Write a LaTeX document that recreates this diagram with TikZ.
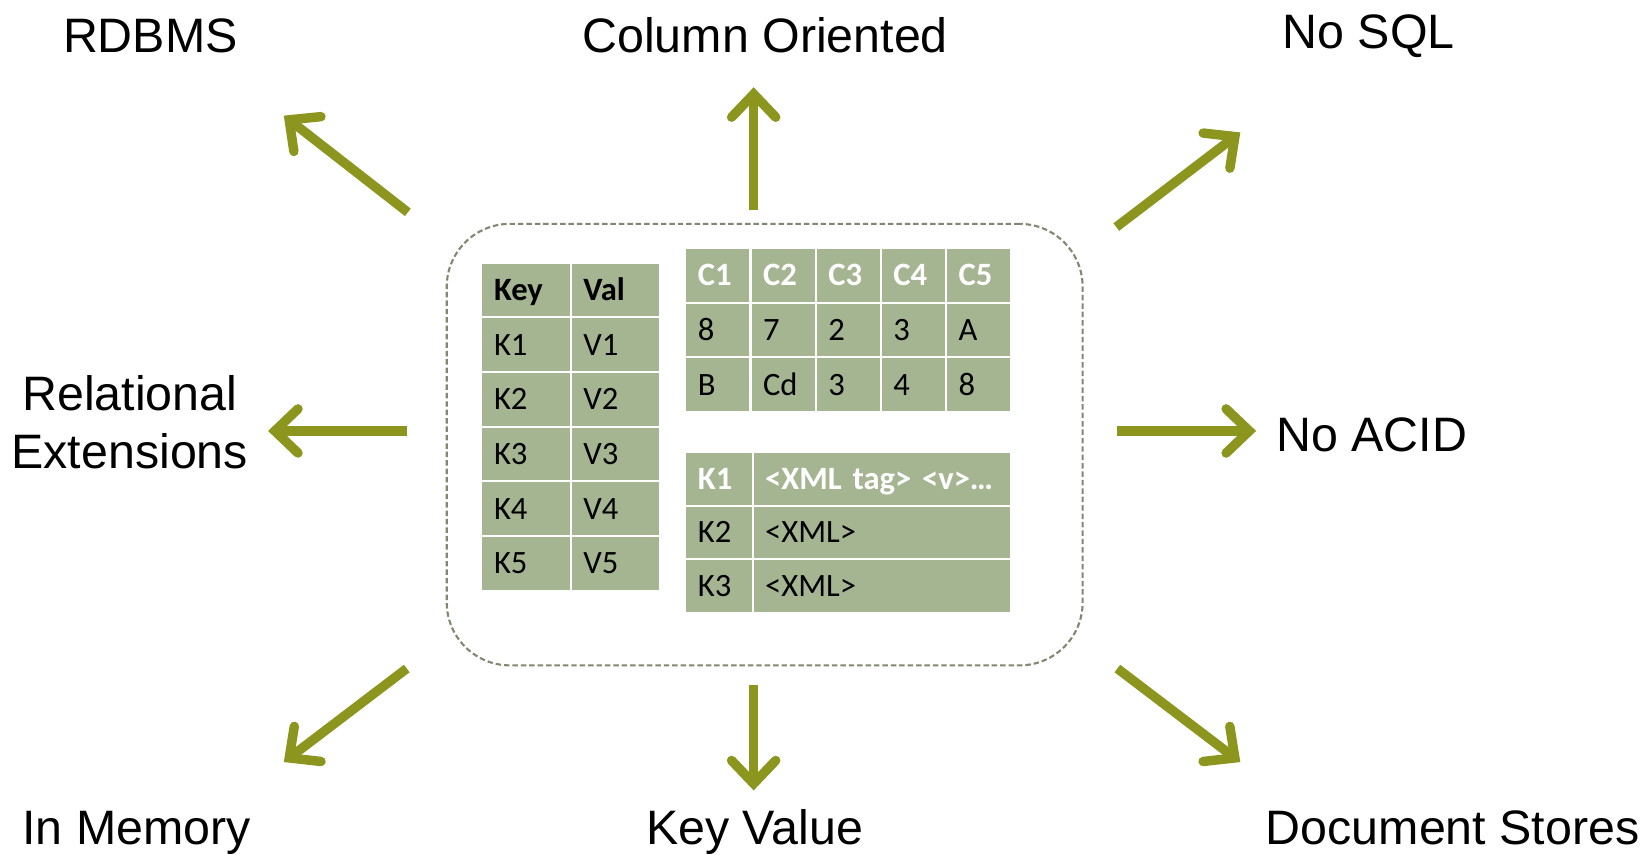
\documentclass[tikz,border=0pt]{standalone}
\usepackage{fontspec}
\setmainfont{Liberation Sans}
\newfontfamily\cellfont{Carlito}
\usepackage{xcolor}
\usetikzlibrary{arrows.meta, positioning}

\definecolor{cellfill}{HTML}{A5B592}
\definecolor{arrowolive}{HTML}{8C961E}
\definecolor{framegray}{HTML}{7F8870}
\newcommand{\cellsize}{\fontsize{15.5}{18}\selectfont}

\tikzset{
  cell/.style={draw=white, line width=1pt, fill=cellfill, minimum height=26pt,
    inner xsep=6pt, inner ysep=0pt, align=left, text height=10pt, text depth=0pt,
    font=\cellfont\cellsize},
  kcell/.style={cell, text width=30.5pt},
  ccell/.style={cell, text width=19pt},
  xkey/.style={cell, text width=20pt, minimum height=25.5pt},
  xval/.style={cell, text width=111pt, minimum height=25.5pt},
  boldhead/.style={font=\cellfont\cellsize\bfseries},
  whitehead/.style={font=\cellfont\cellsize\bfseries, text=white},
  dbname/.style={font=\fontsize{23}{27.5}\selectfont, anchor=base, inner sep=0pt},
  arr/.style={draw=arrowolive, line width=4.5pt,
    -{Straight Barb[length=11pt, width=21pt, line cap=round]}},
}

\begin{document}
\begin{tikzpicture}[x=0.5pt, y=-0.5pt]
  \useasboundingbox (0,0) rectangle (1565,813);

  % dashed frame round the tables
  \node[draw=framegray, line width=1pt, dash pattern=on 2.6pt off 1.4pt,
    rounded corners=30pt, minimum width=302.5pt, minimum height=210pt]
    (frame) at (727.5,423) {};

  % key / value table
  \node[kcell, boldhead] (kh) at (500.5,276) {Key};
  \node[kcell, boldhead] (vh) at (585.5,276) {Val};
  \node[kcell] (k1) at (500.5,328) {K1};
  \node[kcell] (v1) at (585.5,328) {V1};
  \node[kcell] (k2) at (500.5,380) {K2};
  \node[kcell] (v2) at (585.5,380) {V2};
  \node[kcell] (k3) at (500.5,432) {K3};
  \node[kcell] (v3) at (585.5,432) {V3};
  \node[kcell] (k4) at (500.5,484) {K4};
  \node[kcell] (v4) at (585.5,484) {V4};
  \node[kcell] (k5) at (500.5,536) {K5};
  \node[kcell] (v5) at (585.5,536) {V5};

  % column table
  \node[ccell, whitehead] (c1) at (683,262) {C1};
  \node[ccell, whitehead] (c2) at (745,262) {C2};
  \node[ccell, whitehead] (c3) at (807,262) {C3};
  \node[ccell, whitehead] (c4) at (869,262) {C4};
  \node[ccell, whitehead] (c5) at (931,262) {C5};
  \node[ccell] (r1a) at (683,314) {8};
  \node[ccell] (r1b) at (745,314) {7};
  \node[ccell] (r1c) at (807,314) {2};
  \node[ccell] (r1d) at (869,314) {3};
  \node[ccell] (r1e) at (931,314) {A};
  \node[ccell] (r2a) at (683,366) {B};
  \node[ccell] (r2b) at (745,366) {Cd};
  \node[ccell] (r2c) at (807,366) {3};
  \node[ccell] (r2d) at (869,366) {4};
  \node[ccell] (r2e) at (931,366) {8};

  % document table
  \node[xkey, whitehead] (xk1) at (684,455.5) {K1};
  \node[xval, whitehead] (xv1) at (839,455.5) {<XML tag> <v>…};
  \node[xkey] (xk2) at (684,506.5) {K2};
  \node[xval] (xv2) at (839,506.5) {<XML>};
  \node[xkey] (xk3) at (684,557.5) {K3};
  \node[xval] (xv3) at (839,557.5) {<XML>};

  % names round the frame
  \node[dbname] (rdbms) at (143,50) {RDBMS};
  \node[dbname] (column) at (728,50) {Column Oriented};
  \node[dbname] (nosql) at (1302,46) {No SQL};
  \node[dbname, align=center] (relext) at (123.5,446) {Relational\\Extensions};
  \node[dbname] (noacid) at (1305,430) {No ACID};
  \node[dbname] (inmem) at (130,803) {In Memory};
  \node[dbname] (keyval) at (718,803) {Key Value};
  \node[dbname] (docs) at (1382,803) {Document Stores};

  % arrow ends
  \coordinate (nwA) at (388,202);  \coordinate (nwB) at (270,110);
  \coordinate (nA) at (717,200);   \coordinate (nB) at (717,83);
  \coordinate (neA) at (1062,216); \coordinate (neB) at (1180,126);
  \coordinate (wA) at (387,410);   \coordinate (wB) at (255,410);
  \coordinate (eA) at (1063,410);  \coordinate (eB) at (1195,410);
  \coordinate (swA) at (387,636);  \coordinate (swB) at (270,725);
  \coordinate (sA) at (717,652);   \coordinate (sB) at (717,752);
  \coordinate (seA) at (1063,636); \coordinate (seB) at (1180,725);

  \draw[arr] (nwA) -- (nwB);
  \draw[arr] (nA) -- (nB);
  \draw[arr] (neA) -- (neB);
  \draw[arr] (wA) -- (wB);
  \draw[arr] (eA) -- (eB);
  \draw[arr] (swA) -- (swB);
  \draw[arr] (sA) -- (sB);
  \draw[arr] (seA) -- (seB);
\end{tikzpicture}
\end{document}
